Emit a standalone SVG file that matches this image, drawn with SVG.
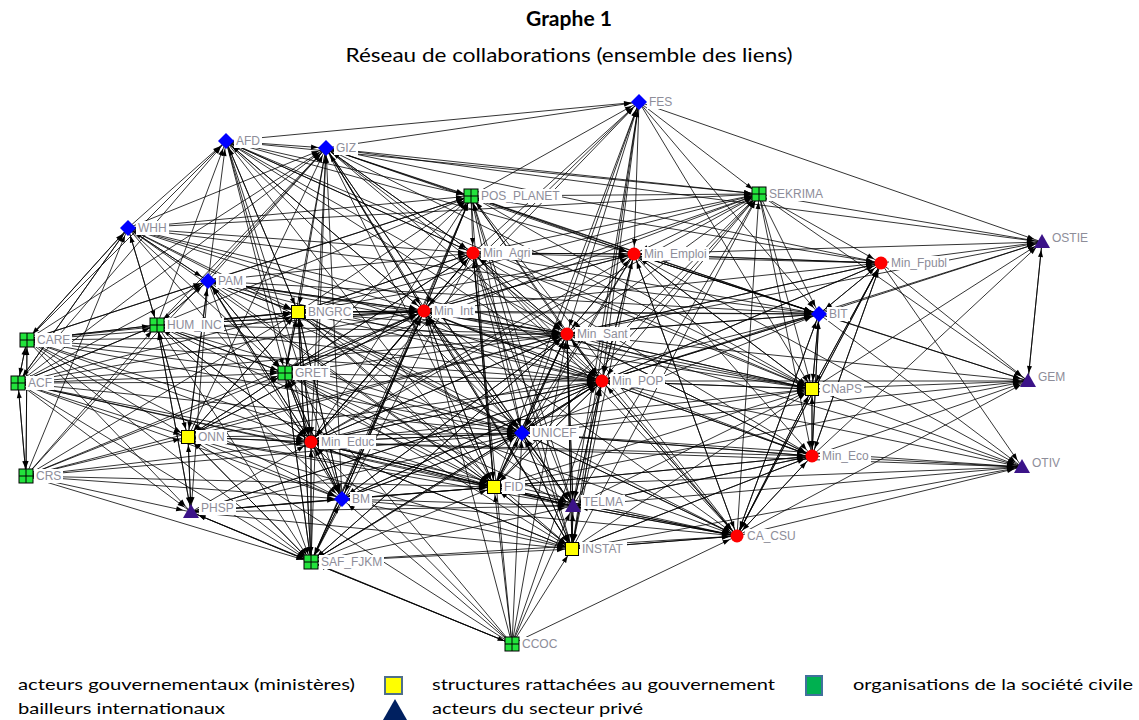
<svg xmlns="http://www.w3.org/2000/svg" xmlns:xlink="http://www.w3.org/1999/xlink" width="1139" height="720" viewBox="0 0 1139 720">
<style>
.e path{stroke:#000;stroke-width:0.8;fill:none;marker-end:url(#ar)}
.lb{fill:#fff}
.lt{font-family:"Liberation Sans",Arial,sans-serif;font-size:12px;fill:#8d8d99}
.ti{font-family:Lato,"Liberation Sans",sans-serif;fill:#000}
.lg{font-family:Lato,"Liberation Sans",sans-serif;font-size:16px;fill:#000}
</style>
<defs>
<marker id="ar" markerUnits="userSpaceOnUse" markerWidth="7" markerHeight="5" refX="15" refY="2.5" orient="auto" overflow="visible"><path d="M0 0L7 2.5L0 5Z" fill="#000"/></marker>
<path id="dia" d="M0 -8L8 0L0 8L-8 0Z" fill="#0000ff"/>
<circle id="cir" r="6.5" fill="#ff0000"/>
<rect id="ysq" x="-6.5" y="-6.5" width="13" height="13" fill="#ffff00" stroke="#000" stroke-width="1"/>
<g id="gsq"><rect x="-7" y="-7" width="14" height="14" fill="#22e33c" stroke="#000" stroke-width="1"/><path d="M0 -7V7M-7 0H7" stroke="#000" stroke-width="1"/></g>
<path id="tri" d="M0 -8L8 6L-8 6Z" fill="#3b1388"/>
</defs>
<rect width="1139" height="720" fill="#fff"/>
<text class="ti" x="569" y="26" font-size="21" font-weight="bold" text-anchor="middle" textLength="86" lengthAdjust="spacingAndGlyphs">Graphe 1</text>
<text class="ti" x="569" y="62" font-size="19" text-anchor="middle" textLength="447" lengthAdjust="spacingAndGlyphs">Réseau de collaborations (ensemble des liens)</text>
<g id="edges" class="e">
<path d="M639 102L759 194"/><path d="M639 102L1042 242"/><path d="M639 102L634 254"/><path d="M639 102L567 334"/><path d="M639 102L602 381"/><path d="M639 102L819 314"/><path d="M639 102L812 389"/>
<path d="M471 196L639 102"/><path d="M473 253L639 102"/><path d="M424 311L639 102"/><path d="M226 141L639 102"/><path d="M326 148L639 102"/><path d="M311 442L639 102"/><path d="M522 433L639 102"/><path d="M494 487L639 102"/><path d="M573 506L639 102"/><path d="M572 549L639 102"/>
<path d="M326 148L1042 242"/><path d="M759 194L1042 242"/><path d="M634 254L1042 242"/><path d="M881 263L1042 242"/><path d="M819 314L1042 242"/><path d="M812 389L1042 242"/><path d="M812 456L1042 242"/><path d="M602 381L1042 242"/><path d="M1028 381L1042 242"/><path d="M567 334L1042 242"/>
<path d="M1042 242L1028 381"/><path d="M881 263L1028 381"/><path d="M819 314L1028 381"/><path d="M812 389L1028 381"/><path d="M812 456L1028 381"/><path d="M602 381L1028 381"/><path d="M567 334L1028 381"/><path d="M759 194L1028 381"/><path d="M634 254L1028 381"/><path d="M737 536L1028 381"/><path d="M522 433L1028 381"/><path d="M494 487L1028 381"/>
<path d="M812 389L1022 467"/><path d="M819 314L1022 467"/><path d="M881 263L1022 467"/><path d="M812 456L1022 467"/><path d="M602 381L1022 467"/><path d="M567 334L1022 467"/><path d="M737 536L1022 467"/><path d="M522 433L1022 467"/><path d="M494 487L1022 467"/><path d="M573 506L1022 467"/><path d="M572 549L1022 467"/><path d="M634 254L1022 467"/><path d="M311 442L1022 467"/>
<path d="M226 141L326 148"/><path d="M226 141L471 196"/><path d="M226 141L759 194"/><path d="M226 141L473 253"/><path d="M226 141L634 254"/><path d="M226 141L424 311"/><path d="M226 141L567 334"/><path d="M226 141L602 381"/><path d="M226 141L298 312"/><path d="M226 141L285 373"/><path d="M226 141L311 442"/><path d="M226 141L522 433"/><path d="M226 141L494 487"/><path d="M226 141L342 499"/><path d="M226 141L812 389"/>
<path d="M128 228L226 141"/><path d="M208 281L226 141"/><path d="M157 325L226 141"/><path d="M27 340L226 141"/><path d="M18 383L226 141"/><path d="M298 312L226 141"/><path d="M424 311L226 141"/><path d="M473 253L226 141"/>
<path d="M326 148L471 196"/><path d="M326 148L759 194"/><path d="M326 148L473 253"/><path d="M326 148L634 254"/><path d="M326 148L881 263"/><path d="M326 148L424 311"/><path d="M326 148L567 334"/><path d="M326 148L602 381"/><path d="M326 148L819 314"/><path d="M326 148L812 389"/><path d="M326 148L298 312"/><path d="M326 148L285 373"/><path d="M326 148L311 442"/><path d="M326 148L522 433"/><path d="M326 148L494 487"/><path d="M326 148L572 549"/><path d="M326 148L573 506"/>
<path d="M128 228L326 148"/><path d="M208 281L326 148"/><path d="M157 325L326 148"/><path d="M27 340L326 148"/><path d="M18 383L326 148"/><path d="M188 437L326 148"/><path d="M342 499L326 148"/><path d="M26 476L326 148"/><path d="M311 562L326 148"/><path d="M424 311L326 148"/><path d="M473 253L326 148"/>
<path d="M471 196L759 194"/><path d="M471 196L473 253"/><path d="M471 196L634 254"/><path d="M471 196L881 263"/><path d="M471 196L424 311"/><path d="M471 196L567 334"/><path d="M471 196L602 381"/><path d="M471 196L819 314"/><path d="M471 196L812 389"/><path d="M471 196L522 433"/><path d="M471 196L494 487"/>
<path d="M128 228L471 196"/><path d="M208 281L471 196"/><path d="M157 325L471 196"/><path d="M298 312L471 196"/><path d="M285 373L471 196"/><path d="M311 442L471 196"/><path d="M27 340L471 196"/><path d="M342 499L471 196"/><path d="M311 562L471 196"/><path d="M573 506L471 196"/><path d="M572 549L471 196"/><path d="M737 536L471 196"/>
<path d="M759 194L634 254"/><path d="M759 194L881 263"/><path d="M759 194L819 314"/><path d="M759 194L812 389"/><path d="M759 194L567 334"/><path d="M759 194L602 381"/><path d="M759 194L812 456"/>
<path d="M473 253L759 194"/><path d="M424 311L759 194"/><path d="M298 312L759 194"/><path d="M285 373L759 194"/><path d="M522 433L759 194"/><path d="M494 487L759 194"/><path d="M311 442L759 194"/><path d="M573 506L759 194"/><path d="M572 549L759 194"/><path d="M737 536L759 194"/><path d="M128 228L759 194"/>
<path d="M128 228L473 253"/><path d="M128 228L208 281"/><path d="M128 228L157 325"/><path d="M128 228L298 312"/><path d="M128 228L424 311"/><path d="M128 228L567 334"/><path d="M128 228L602 381"/><path d="M128 228L285 373"/><path d="M128 228L311 442"/><path d="M128 228L522 433"/><path d="M128 228L494 487"/><path d="M128 228L819 314"/><path d="M128 228L27 340"/><path d="M128 228L18 383"/>
<path d="M27 340L128 228"/><path d="M18 383L128 228"/><path d="M157 325L128 228"/><path d="M208 281L128 228"/><path d="M26 476L128 228"/>
<path d="M473 253L634 254"/><path d="M473 253L881 263"/><path d="M473 253L424 311"/><path d="M473 253L567 334"/><path d="M473 253L602 381"/><path d="M473 253L819 314"/><path d="M473 253L812 389"/><path d="M473 253L812 456"/><path d="M473 253L522 433"/><path d="M473 253L494 487"/><path d="M473 253L572 549"/><path d="M473 253L311 442"/><path d="M473 253L573 506"/><path d="M473 253L298 312"/><path d="M473 253L285 373"/><path d="M473 253L311 562"/><path d="M473 253L737 536"/>
<path d="M634 254L881 263"/><path d="M634 254L819 314"/><path d="M634 254L812 389"/><path d="M634 254L567 334"/><path d="M634 254L602 381"/><path d="M634 254L812 456"/><path d="M634 254L737 536"/><path d="M634 254L572 549"/><path d="M634 254L522 433"/><path d="M634 254L494 487"/><path d="M634 254L424 311"/><path d="M634 254L473 253"/>
<path d="M881 263L819 314"/><path d="M881 263L812 389"/><path d="M881 263L812 456"/><path d="M881 263L634 254"/><path d="M881 263L602 381"/><path d="M881 263L737 536"/><path d="M881 263L567 334"/>
<path d="M424 311L473 253"/><path d="M424 311L634 254"/><path d="M424 311L881 263"/><path d="M424 311L567 334"/><path d="M424 311L602 381"/><path d="M424 311L819 314"/><path d="M424 311L812 389"/><path d="M424 311L812 456"/><path d="M424 311L522 433"/><path d="M424 311L494 487"/><path d="M424 311L572 549"/><path d="M424 311L573 506"/><path d="M424 311L311 442"/><path d="M424 311L298 312"/><path d="M424 311L285 373"/><path d="M424 311L342 499"/><path d="M424 311L311 562"/><path d="M424 311L188 437"/><path d="M424 311L737 536"/><path d="M424 311L471 196"/><path d="M424 311L157 325"/><path d="M424 311L208 281"/>
<path d="M567 334L602 381"/><path d="M567 334L819 314"/><path d="M567 334L812 389"/><path d="M567 334L812 456"/><path d="M567 334L522 433"/><path d="M567 334L494 487"/><path d="M567 334L572 549"/><path d="M567 334L573 506"/><path d="M567 334L737 536"/><path d="M567 334L311 442"/><path d="M567 334L424 311"/><path d="M567 334L473 253"/><path d="M567 334L634 254"/><path d="M567 334L881 263"/><path d="M567 334L342 499"/><path d="M567 334L311 562"/>
<path d="M602 381L819 314"/><path d="M602 381L812 389"/><path d="M602 381L812 456"/><path d="M602 381L737 536"/><path d="M602 381L572 549"/><path d="M602 381L573 506"/><path d="M602 381L494 487"/><path d="M602 381L522 433"/><path d="M602 381L567 334"/><path d="M602 381L311 442"/><path d="M602 381L424 311"/><path d="M602 381L881 263"/><path d="M602 381L634 254"/><path d="M602 381L342 499"/><path d="M602 381L311 562"/><path d="M602 381L191 512"/>
<path d="M311 442L424 311"/><path d="M311 442L473 253"/><path d="M311 442L567 334"/><path d="M311 442L602 381"/><path d="M311 442L522 433"/><path d="M311 442L494 487"/><path d="M311 442L342 499"/><path d="M311 442L572 549"/><path d="M311 442L573 506"/><path d="M311 442L737 536"/><path d="M311 442L311 562"/><path d="M311 442L188 437"/><path d="M311 442L285 373"/><path d="M311 442L298 312"/><path d="M311 442L812 456"/><path d="M311 442L812 389"/><path d="M311 442L819 314"/><path d="M311 442L634 254"/><path d="M311 442L157 325"/><path d="M311 442L208 281"/>
<path d="M812 456L812 389"/><path d="M812 456L819 314"/><path d="M812 456L881 263"/><path d="M812 456L737 536"/><path d="M812 456L602 381"/><path d="M812 456L567 334"/><path d="M812 456L572 549"/><path d="M812 456L522 433"/><path d="M812 456L494 487"/><path d="M812 456L573 506"/>
<path d="M737 536L812 389"/><path d="M737 536L819 314"/><path d="M737 536L812 456"/><path d="M737 536L881 263"/><path d="M737 536L602 381"/><path d="M737 536L572 549"/><path d="M737 536L573 506"/><path d="M737 536L494 487"/><path d="M737 536L522 433"/><path d="M737 536L634 254"/>
<path d="M298 312L424 311"/><path d="M298 312L473 253"/><path d="M298 312L634 254"/><path d="M298 312L567 334"/><path d="M298 312L602 381"/><path d="M298 312L311 442"/><path d="M298 312L285 373"/><path d="M298 312L522 433"/><path d="M298 312L494 487"/><path d="M298 312L819 314"/><path d="M298 312L812 389"/><path d="M298 312L572 549"/><path d="M298 312L573 506"/><path d="M298 312L342 499"/><path d="M298 312L311 562"/><path d="M298 312L188 437"/><path d="M298 312L737 536"/><path d="M298 312L157 325"/><path d="M298 312L208 281"/>
<path d="M812 389L819 314"/><path d="M812 389L881 263"/><path d="M812 389L812 456"/><path d="M812 389L737 536"/><path d="M812 389L602 381"/><path d="M812 389L567 334"/><path d="M812 389L634 254"/>
<path d="M188 437L311 442"/><path d="M188 437L191 512"/><path d="M188 437L424 311"/><path d="M188 437L298 312"/><path d="M188 437L285 373"/><path d="M188 437L567 334"/><path d="M188 437L602 381"/><path d="M188 437L522 433"/><path d="M188 437L494 487"/><path d="M188 437L342 499"/><path d="M188 437L311 562"/><path d="M188 437L157 325"/><path d="M188 437L208 281"/><path d="M188 437L573 506"/><path d="M188 437L572 549"/>
<path d="M494 487L522 433"/><path d="M494 487L573 506"/><path d="M494 487L572 549"/><path d="M494 487L737 536"/><path d="M494 487L602 381"/><path d="M494 487L567 334"/><path d="M494 487L311 442"/><path d="M494 487L342 499"/><path d="M494 487L424 311"/><path d="M494 487L473 253"/><path d="M494 487L812 389"/><path d="M494 487L812 456"/>
<path d="M572 549L573 506"/><path d="M572 549L737 536"/><path d="M572 549L494 487"/><path d="M572 549L522 433"/><path d="M572 549L602 381"/><path d="M572 549L567 334"/><path d="M572 549L812 456"/><path d="M572 549L812 389"/><path d="M572 549L311 442"/><path d="M572 549L424 311"/>
<path d="M208 281L298 312"/><path d="M208 281L424 311"/><path d="M208 281L473 253"/><path d="M208 281L157 325"/><path d="M208 281L285 373"/><path d="M208 281L188 437"/><path d="M208 281L311 442"/><path d="M208 281L567 334"/><path d="M208 281L602 381"/><path d="M208 281L522 433"/><path d="M208 281L494 487"/><path d="M208 281L342 499"/><path d="M208 281L311 562"/><path d="M208 281L191 512"/><path d="M208 281L819 314"/><path d="M208 281L812 389"/>
<path d="M819 314L881 263"/><path d="M819 314L812 389"/><path d="M819 314L812 456"/><path d="M819 314L602 381"/><path d="M819 314L567 334"/><path d="M819 314L634 254"/><path d="M819 314L737 536"/>
<path d="M522 433L494 487"/><path d="M522 433L573 506"/><path d="M522 433L572 549"/><path d="M522 433L737 536"/><path d="M522 433L602 381"/><path d="M522 433L567 334"/><path d="M522 433L311 442"/><path d="M522 433L424 311"/><path d="M522 433L342 499"/><path d="M522 433L812 456"/><path d="M522 433L812 389"/><path d="M522 433L819 314"/>
<path d="M342 499L311 442"/><path d="M342 499L494 487"/><path d="M342 499L522 433"/><path d="M342 499L572 549"/><path d="M342 499L573 506"/><path d="M342 499L737 536"/><path d="M342 499L424 311"/><path d="M342 499L602 381"/><path d="M342 499L567 334"/><path d="M342 499L311 562"/><path d="M342 499L191 512"/><path d="M342 499L298 312"/><path d="M342 499L285 373"/>
<path d="M157 325L208 281"/><path d="M157 325L298 312"/><path d="M157 325L424 311"/><path d="M157 325L285 373"/><path d="M157 325L188 437"/><path d="M157 325L311 442"/><path d="M157 325L567 334"/><path d="M157 325L602 381"/><path d="M157 325L522 433"/><path d="M157 325L494 487"/><path d="M157 325L342 499"/><path d="M157 325L311 562"/><path d="M157 325L191 512"/><path d="M157 325L27 340"/><path d="M157 325L18 383"/>
<path d="M27 340L18 383"/><path d="M27 340L26 476"/><path d="M27 340L157 325"/><path d="M27 340L208 281"/><path d="M27 340L298 312"/><path d="M27 340L285 373"/><path d="M27 340L424 311"/><path d="M27 340L311 442"/><path d="M27 340L567 334"/><path d="M27 340L602 381"/><path d="M27 340L188 437"/><path d="M27 340L522 433"/><path d="M27 340L494 487"/><path d="M27 340L342 499"/><path d="M27 340L311 562"/><path d="M27 340L191 512"/>
<path d="M18 383L27 340"/><path d="M18 383L26 476"/><path d="M18 383L157 325"/><path d="M18 383L208 281"/><path d="M18 383L298 312"/><path d="M18 383L285 373"/><path d="M18 383L424 311"/><path d="M18 383L311 442"/><path d="M18 383L188 437"/><path d="M18 383L602 381"/><path d="M18 383L567 334"/><path d="M18 383L522 433"/><path d="M18 383L494 487"/><path d="M18 383L342 499"/><path d="M18 383L311 562"/><path d="M18 383L191 512"/><path d="M18 383L573 506"/>
<path d="M26 476L18 383"/><path d="M26 476L27 340"/><path d="M26 476L157 325"/><path d="M26 476L188 437"/><path d="M26 476L285 373"/><path d="M26 476L298 312"/><path d="M26 476L424 311"/><path d="M26 476L311 442"/><path d="M26 476L342 499"/><path d="M26 476L494 487"/><path d="M26 476L522 433"/><path d="M26 476L191 512"/><path d="M26 476L311 562"/><path d="M26 476L567 334"/>
<path d="M285 373L298 312"/><path d="M285 373L424 311"/><path d="M285 373L473 253"/><path d="M285 373L311 442"/><path d="M285 373L567 334"/><path d="M285 373L602 381"/><path d="M285 373L522 433"/><path d="M285 373L494 487"/><path d="M285 373L342 499"/><path d="M285 373L311 562"/><path d="M285 373L188 437"/><path d="M285 373L572 549"/><path d="M285 373L573 506"/><path d="M285 373L737 536"/><path d="M285 373L157 325"/><path d="M285 373L208 281"/>
<path d="M311 562L311 442"/><path d="M311 562L342 499"/><path d="M311 562L494 487"/><path d="M311 562L522 433"/><path d="M311 562L572 549"/><path d="M311 562L573 506"/><path d="M311 562L424 311"/><path d="M311 562L602 381"/><path d="M311 562L567 334"/><path d="M311 562L285 373"/><path d="M311 562L298 312"/><path d="M311 562L188 437"/><path d="M311 562L191 512"/><path d="M311 562L512 644"/><path d="M311 562L737 536"/>
<path d="M512 644L311 562"/><path d="M512 644L342 499"/><path d="M512 644L311 442"/><path d="M512 644L494 487"/><path d="M512 644L522 433"/><path d="M512 644L572 549"/><path d="M512 644L573 506"/><path d="M512 644L737 536"/><path d="M512 644L424 311"/><path d="M512 644L567 334"/><path d="M512 644L602 381"/><path d="M512 644L191 512"/><path d="M512 644L188 437"/><path d="M512 644L285 373"/><path d="M512 644L473 253"/>
<path d="M191 512L188 437"/><path d="M191 512L311 442"/><path d="M191 512L342 499"/><path d="M191 512L494 487"/><path d="M191 512L522 433"/><path d="M191 512L573 506"/><path d="M191 512L572 549"/><path d="M191 512L602 381"/><path d="M191 512L311 562"/><path d="M191 512L157 325"/>
<path d="M573 506L572 549"/><path d="M573 506L737 536"/><path d="M573 506L494 487"/><path d="M573 506L522 433"/><path d="M573 506L602 381"/><path d="M573 506L567 334"/><path d="M573 506L812 456"/><path d="M573 506L812 389"/>
</g>
<g id="n-FES"><rect class="lb" x="647" y="95" width="27" height="14"/><text class="lt" x="649" y="106">FES</text><use xlink:href="#dia" x="639" y="102"/></g>
<g id="n-AFD"><rect class="lb" x="234" y="134" width="28" height="14"/><text class="lt" x="236" y="145">AFD</text><use xlink:href="#dia" x="226" y="141"/></g>
<g id="n-GIZ"><rect class="lb" x="334" y="141" width="24" height="14"/><text class="lt" x="336" y="152">GIZ</text><use xlink:href="#dia" x="326" y="148"/></g>
<g id="n-POS_PLANET"><rect class="lb" x="479" y="189" width="83" height="14"/><text class="lt" x="481" y="200">POS_PLANET</text><use xlink:href="#gsq" x="471" y="196"/></g>
<g id="n-SEKRIMA"><rect class="lb" x="767" y="187" width="58" height="14"/><text class="lt" x="769" y="198">SEKRIMA</text><use xlink:href="#gsq" x="759" y="194"/></g>
<g id="n-WHH"><rect class="lb" x="136" y="221" width="33" height="14"/><text class="lt" x="138" y="232">WHH</text><use xlink:href="#dia" x="128" y="228"/></g>
<g id="n-Min_Agri"><rect class="lb" x="481" y="246" width="51" height="14"/><text class="lt" x="483" y="257">Min_Agri</text><use xlink:href="#cir" x="473" y="253"/></g>
<g id="n-Min_Emploi"><rect class="lb" x="642" y="247" width="67" height="14"/><text class="lt" x="644" y="258">Min_Emploi</text><use xlink:href="#cir" x="634" y="254"/></g>
<g id="n-Min_Fpubl"><rect class="lb" x="889" y="256" width="60" height="14"/><text class="lt" x="891" y="267">Min_Fpubl</text><use xlink:href="#cir" x="881" y="263"/></g>
<g id="n-OSTIE"><rect class="lb" x="1050" y="231" width="40" height="14"/><text class="lt" x="1052" y="242">OSTIE</text><use xlink:href="#tri" x="1042" y="242"/></g>
<g id="n-PAM"><rect class="lb" x="216" y="274" width="30" height="14"/><text class="lt" x="218" y="285">PAM</text><use xlink:href="#dia" x="208" y="281"/></g>
<g id="n-BNGRC"><rect class="lb" x="306" y="305" width="47" height="14"/><text class="lt" x="308" y="316">BNGRC</text><use xlink:href="#ysq" x="298" y="312"/></g>
<g id="n-Min_Int"><rect class="lb" x="432" y="304" width="43" height="14"/><text class="lt" x="434" y="315">Min_Int</text><use xlink:href="#cir" x="424" y="311"/></g>
<g id="n-HUM_INC"><rect class="lb" x="165" y="318" width="59" height="14"/><text class="lt" x="167" y="329">HUM_INC</text><use xlink:href="#gsq" x="157" y="325"/></g>
<g id="n-CARE"><rect class="lb" x="35" y="333" width="37" height="14"/><text class="lt" x="37" y="344">CARE</text><use xlink:href="#gsq" x="27" y="340"/></g>
<g id="n-BIT"><rect class="lb" x="827" y="307" width="23" height="14"/><text class="lt" x="829" y="318">BIT</text><use xlink:href="#dia" x="819" y="314"/></g>
<g id="n-Min_Sant"><rect class="lb" x="575" y="327" width="55" height="14"/><text class="lt" x="577" y="338">Min_Sant</text><use xlink:href="#cir" x="567" y="334"/></g>
<g id="n-GRET"><rect class="lb" x="293" y="366" width="37" height="14"/><text class="lt" x="295" y="377">GRET</text><use xlink:href="#gsq" x="285" y="373"/></g>
<g id="n-ACF"><rect class="lb" x="26" y="376" width="28" height="14"/><text class="lt" x="28" y="387">ACF</text><use xlink:href="#gsq" x="18" y="383"/></g>
<g id="n-Min_POP"><rect class="lb" x="610" y="374" width="55" height="14"/><text class="lt" x="612" y="385">Min_POP</text><use xlink:href="#cir" x="602" y="381"/></g>
<g id="n-CNaPS"><rect class="lb" x="820" y="382" width="44" height="14"/><text class="lt" x="822" y="393">CNaPS</text><use xlink:href="#ysq" x="812" y="389"/></g>
<g id="n-GEM"><rect class="lb" x="1036" y="370" width="31" height="14"/><text class="lt" x="1038" y="381">GEM</text><use xlink:href="#tri" x="1028" y="381"/></g>
<g id="n-ONN"><rect class="lb" x="196" y="430" width="31" height="14"/><text class="lt" x="198" y="441">ONN</text><use xlink:href="#ysq" x="188" y="437"/></g>
<g id="n-Min_Educ"><rect class="lb" x="319" y="435" width="57" height="14"/><text class="lt" x="321" y="446">Min_Educ</text><use xlink:href="#cir" x="311" y="442"/></g>
<g id="n-UNICEF"><rect class="lb" x="530" y="426" width="49" height="14"/><text class="lt" x="532" y="437">UNICEF</text><use xlink:href="#dia" x="522" y="433"/></g>
<g id="n-Min_Eco"><rect class="lb" x="820" y="449" width="51" height="14"/><text class="lt" x="822" y="460">Min_Eco</text><use xlink:href="#cir" x="812" y="456"/></g>
<g id="n-OTIV"><rect class="lb" x="1030" y="456" width="32" height="14"/><text class="lt" x="1032" y="467">OTIV</text><use xlink:href="#tri" x="1022" y="467"/></g>
<g id="n-CRS"><rect class="lb" x="34" y="469" width="29" height="14"/><text class="lt" x="36" y="480">CRS</text><use xlink:href="#gsq" x="26" y="476"/></g>
<g id="n-BM"><rect class="lb" x="350" y="492" width="22" height="14"/><text class="lt" x="352" y="503">BM</text><use xlink:href="#dia" x="342" y="499"/></g>
<g id="n-FID"><rect class="lb" x="502" y="480" width="23" height="14"/><text class="lt" x="504" y="491">FID</text><use xlink:href="#ysq" x="494" y="487"/></g>
<g id="n-TELMA"><rect class="lb" x="581" y="495" width="44" height="14"/><text class="lt" x="583" y="506">TELMA</text><use xlink:href="#tri" x="573" y="506"/></g>
<g id="n-PHSP"><rect class="lb" x="199" y="501" width="37" height="14"/><text class="lt" x="201" y="512">PHSP</text><use xlink:href="#tri" x="191" y="512"/></g>
<g id="n-CA_CSU"><rect class="lb" x="745" y="529" width="53" height="14"/><text class="lt" x="747" y="540">CA_CSU</text><use xlink:href="#cir" x="737" y="536"/></g>
<g id="n-INSTAT"><rect class="lb" x="580" y="542" width="47" height="14"/><text class="lt" x="582" y="553">INSTAT</text><use xlink:href="#ysq" x="572" y="549"/></g>
<g id="n-SAF_FJKM"><rect class="lb" x="319" y="555" width="65" height="14"/><text class="lt" x="321" y="566">SAF_FJKM</text><use xlink:href="#gsq" x="311" y="562"/></g>
<g id="n-CCOC"><rect class="lb" x="520" y="637" width="39" height="14"/><text class="lt" x="522" y="648">CCOC</text><use xlink:href="#gsq" x="512" y="644"/></g>
<g id="legend">
<text class="lg" x="18" y="690" textLength="337" lengthAdjust="spacingAndGlyphs">acteurs gouvernementaux (ministères)</text>
<text class="lg" x="18" y="714" textLength="207" lengthAdjust="spacingAndGlyphs">bailleurs internationaux</text>
<rect x="385" y="677" width="17" height="17" fill="#ffff00" stroke="#4f6f8a" stroke-width="2"/>
<text class="lg" x="432" y="690" textLength="343" lengthAdjust="spacingAndGlyphs">structures rattachées au gouvernement</text>
<path d="M395 699L407 720L383 720Z" fill="#002060"/>
<text class="lg" x="432" y="714" textLength="211" lengthAdjust="spacingAndGlyphs">acteurs du secteur privé</text>
<rect x="806" y="676" width="16" height="19" fill="#00b050" stroke="#41719c" stroke-width="2"/>
<text class="lg" x="853" y="690" textLength="280" lengthAdjust="spacingAndGlyphs">organisations de la société civile</text>
</g>
</svg>
